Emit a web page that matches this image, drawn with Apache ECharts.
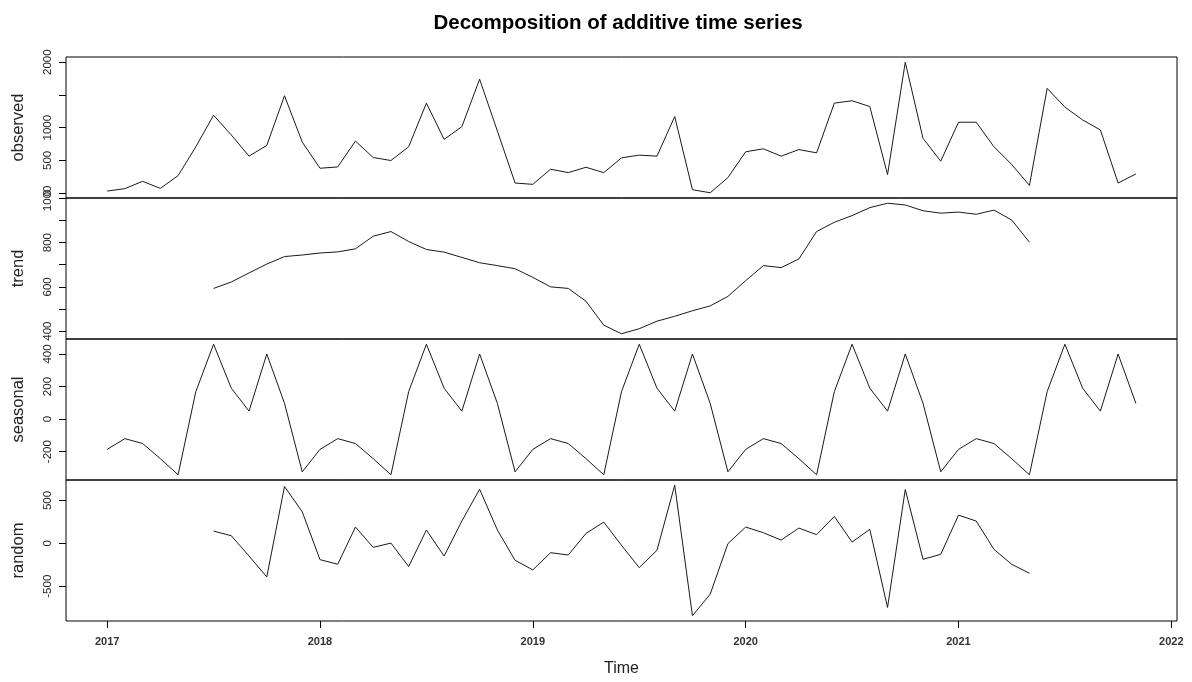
<!DOCTYPE html>
<html>
<head>
<meta charset="utf-8">
<title>Decomposition of additive time series</title>
<script src="https://cdn.jsdelivr.net/npm/echarts@6/dist/echarts.min.js"></script>
<style>
  html, body { margin: 0; padding: 0; background: #fff; }
  #chart { width: 1192px; height: 682px; }
</style>
</head>
<body>
<div id="chart"></div>
<script>
// Monthly series, Jan 2017 .. Nov 2021
const startYear = 2017;
const frequency = 12;

const observed = [
  31, 68, 180, 72, 267, 708, 1190, 888, 565, 729, 1488, 780,
  380, 400, 795, 544, 498, 708, 1375, 821, 1015, 1740, 950, 154,
  134, 365, 313, 395, 313, 539, 580, 565, 1170, 52, 5, 237,
  631, 677, 565, 665, 615, 1375, 1411, 1323, 283, 2000, 837, 488,
  1083, 1083, 708, 437, 118, 1600, 1314, 1118, 965, 154, 292
];

const trend = [
  null, null, null, null, null, null, 593, 622, 663, 703, 737, 744,
  753, 758, 772, 829, 850, 805, 769, 757, 733, 709, 696, 682,
  643, 600, 593, 535, 427, 388, 411, 445, 467, 492, 514, 557,
  628, 696, 687, 726, 850, 892, 922, 958, 978, 970, 944, 933,
  938, 928, 947, 902, 802, null, null, null, null, null, null
];

const seasonal = [
  -186, -120, -150, -243, -342, 169, 460, 190, 49, 400, 97, -324,
  -186, -120, -150, -243, -342, 169, 460, 190, 49, 400, 97, -324,
  -186, -120, -150, -243, -342, 169, 460, 190, 49, 400, 97, -324,
  -186, -120, -150, -243, -342, 169, 460, 190, 49, 400, 97, -324,
  -186, -120, -150, -243, -342, 169, 460, 190, 49, 400, 97
];

const random = [
  null, null, null, null, null, null, 143, 89, -148, -392, 663, 368,
  -190, -244, 190, -47, 3, -271, 155, -148, 260, 631, 157, -198,
  -310, -109, -136, 116, 248, -23, -283, -81, 678, -845, -593, -4,
  190, 124, 38, 178, 101, 314, 15, 163, -748, 628, -186, -128,
  329, 260, -70, -244, -349, null, null, null, null, null, null
];

// Axis ticks and the labels printed beside them
const yearTicks = [2017, 2018, 2019, 2020, 2021, 2022];
const observedTicks = [0, 500, 1000, 1500, 2000];
const observedLabels = [0, 500, 1000, 2000];
const trendTicks = [400, 500, 600, 700, 800, 900, 1000];
const trendLabels = [400, 600, 800, 1000];
const seasonalTicks = [-200, 0, 200, 400];
const randomTicks = [-500, 0, 500];

const panelNames = ['observed', 'trend', 'seasonal', 'random'];
const panelData = [observed, trend, seasonal, random];
const panelTicks = [observedTicks, trendTicks, seasonalTicks, randomTicks];
const panelLabels = [observedLabels, trendLabels, seasonalTicks, randomTicks];

const FONT = '"Liberation Sans", Arial, Helvetica, sans-serif';

// Range padded by 4% on each side, like R's default axis style
function padded(lo, hi) {
  const d = (hi - lo) * 0.04;
  return [lo - d, hi + d];
}

const timeOf = i => startYear + i / frequency;
const xRange = padded(timeOf(0), timeOf(observed.length - 1));

const plotLeft = 66, plotRight = 15, plotTop = 57, panelH = 141;

const grids = [], xAxes = [], yAxes = [], series = [];

panelData.forEach((vals, k) => {
  const defined = vals.filter(v => v !== null);
  const yr = padded(Math.min(...defined), Math.max(...defined));
  const last = k === panelData.length - 1;

  grids.push({
    left: plotLeft, right: plotRight,
    top: plotTop + k * panelH, height: panelH,
    show: true, borderColor: '#000', borderWidth: 1,
    backgroundColor: 'transparent'
  });

  xAxes.push({
    gridIndex: k, type: 'value',
    position: 'bottom',
    min: xRange[0], max: xRange[1],
    show: last,
    splitLine: { show: false },
    axisLine: { show: false, onZero: false },
    axisTick: last ? {
      show: true, length: 7, customValues: yearTicks,
      lineStyle: { color: '#000', width: 1 }
    } : { show: false },
    axisLabel: last ? {
      show: true, customValues: yearTicks, margin: 15,
      fontSize: 11, fontWeight: 'bold', color: '#333', fontFamily: FONT,
      formatter: v => String(Math.round(v))
    } : { show: false },
    name: last ? 'Time' : '',
    nameLocation: 'middle', nameGap: 40,
    nameTextStyle: { fontSize: 16, color: '#222', fontFamily: FONT }
  });

  yAxes.push({
    gridIndex: k, type: 'value',
    position: 'left',
    min: yr[0], max: yr[1],
    splitLine: { show: false },
    axisLine: { show: false, onZero: false },
    axisTick: {
      show: true, length: 7, customValues: panelTicks[k],
      lineStyle: { color: '#000', width: 1 }
    },
    axisLabel: {
      show: true, customValues: panelLabels[k], rotate: 90, margin: 12,
      fontSize: 11.5, color: '#222', fontFamily: FONT,
      formatter: v => String(v)
    },
    name: panelNames[k],
    nameLocation: 'middle', nameGap: 39, nameRotate: 90,
    nameTextStyle: { fontSize: 16.5, color: '#222', fontFamily: FONT }
  });

  series.push({
    type: 'line',
    xAxisIndex: k, yAxisIndex: k,
    data: vals.map((v, i) => [timeOf(i), v]).filter(p => p[1] !== null),
    showSymbol: false,
    symbol: 'none',
    lineStyle: { color: '#1a1a1a', width: 1 },
    animation: false,
    silent: true
  });
});

const chart = echarts.init(document.getElementById('chart'), null, { renderer: 'canvas' });
chart.setOption({
  backgroundColor: '#fff',
  animation: false,
  title: {
    text: 'Decomposition of additive time series',
    left: 613, top: 8, textAlign: 'center',
    textStyle: { fontSize: 20.5, fontWeight: 'bold', color: '#000', fontFamily: FONT }
  },
  grid: grids,
  xAxis: xAxes,
  yAxis: yAxes,
  series: series
});
</script>
</body>
</html>
